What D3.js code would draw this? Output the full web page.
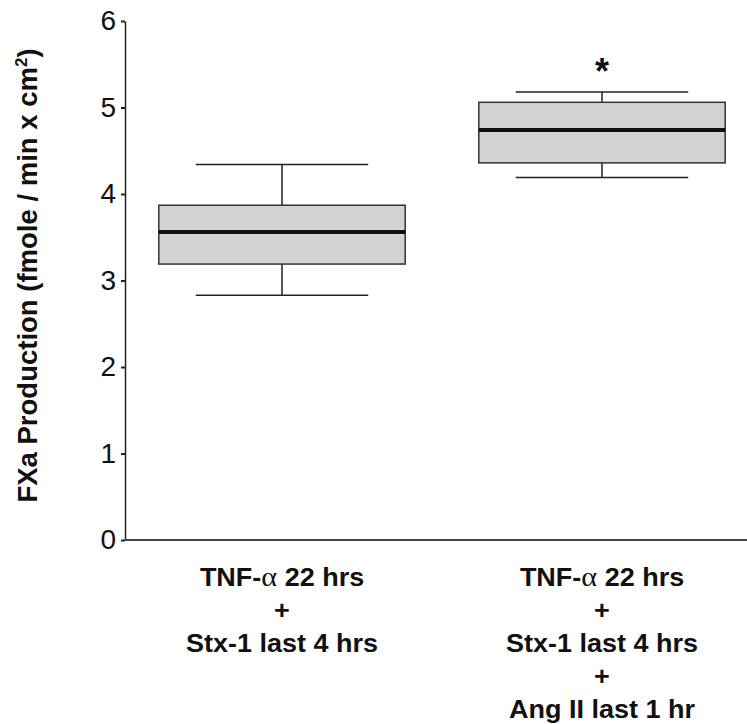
<!DOCTYPE html>
<html lang="en">
  <head>
    <meta charset="utf-8">
    <title>FXa Production</title>
    <style>
      body { margin: 0; background: #fff; }
      svg { display: block; font-family: "Liberation Sans", Arial, sans-serif; }
    </style>
  </head>
  <body>
    <script src="https://cdn.jsdelivr.net/npm/d3@7"></script>
    <script>
      // groups, one label line per entry
      var groups = ["g1", "g2"];
      var groupLabels = [
        ["TNF-α 22 hrs", "+", "Stx-1 last 4 hrs"],
        ["TNF-α 22 hrs", "+", "Stx-1 last 4 hrs", "+", "Ang II last 1 hr"]
      ];
      // box plot values
      var whiskerLow  = [2.83, 4.19];
      var q1          = [3.19, 4.36];
      var median      = [3.56, 4.74];
      var q3          = [3.87, 5.06];
      var whiskerHigh = [4.34, 5.18];
      var marks       = ["", "*"];
      var yTicks = [0, 1, 2, 3, 4, 5, 6];

      var width = 747, height = 724;

      var svg = d3.select("body").append("svg")
          .attr("width", width)
          .attr("height", height);

      var x = d3.scaleBand(groups, [122, 762])
          .paddingInner(0.23)
          .paddingOuter(0.115);
      var y = d3.scaleLinear([0, 6], [540, 21]);

      // y axis
      svg.append("g")
          .attr("transform", "translate(125,0)")
          .call(d3.axisLeft(y).tickValues(yTicks).tickFormat(d3.format("d"))
              .tickSize(4).tickSizeOuter(0).tickPadding(5))
          .call(g => g.select(".domain").attr("stroke", "#222").attr("stroke-width", 1.5))
          .call(g => g.selectAll(".tick line").attr("stroke", "#222").attr("stroke-width", 2))
          .call(g => g.selectAll(".tick text")
              .attr("font-size", 28)
              .attr("font-family", "Liberation Sans, Arial, sans-serif")
              .attr("fill", "#111"));

      // x axis line
      svg.append("line")
          .attr("x1", 125).attr("x2", width)
          .attr("y1", y(0)).attr("y2", y(0))
          .attr("stroke", "#444")
          .attr("stroke-width", 2);

      // y title
      var yt = svg.append("text")
          .attr("transform", "translate(37," + (y(3) - 5) + ") rotate(-90)")
          .attr("text-anchor", "middle")
          .attr("font-size", 27.5)
          .attr("font-weight", "bold")
          .attr("fill", "#111");
      yt.append("tspan").text("FXa Production (fmole / min x cm");
      yt.append("tspan").attr("font-size", 17).attr("dy", -10).text("2");
      yt.append("tspan").attr("dy", 10).text(")");

      var I = d3.range(groups.length);
      var cx = i => x(groups[i]) + x.bandwidth() / 2;
      var capHalf = x.bandwidth() * 0.35;

      var box = svg.append("g").selectAll("g").data(I).join("g");

      // whiskers
      box.append("line")
          .attr("x1", cx).attr("x2", cx)
          .attr("y1", i => y(whiskerHigh[i])).attr("y2", i => y(q3[i]))
          .attr("stroke", "#222").attr("stroke-width", 1.5);
      box.append("line")
          .attr("x1", cx).attr("x2", cx)
          .attr("y1", i => y(q1[i])).attr("y2", i => y(whiskerLow[i]))
          .attr("stroke", "#222").attr("stroke-width", 1.5);
      box.append("line")
          .attr("x1", i => cx(i) - capHalf).attr("x2", i => cx(i) + capHalf)
          .attr("y1", i => y(whiskerHigh[i])).attr("y2", i => y(whiskerHigh[i]))
          .attr("stroke", "#222").attr("stroke-width", 1.5);
      box.append("line")
          .attr("x1", i => cx(i) - capHalf).attr("x2", i => cx(i) + capHalf)
          .attr("y1", i => y(whiskerLow[i])).attr("y2", i => y(whiskerLow[i]))
          .attr("stroke", "#222").attr("stroke-width", 1.5);

      // boxes
      box.append("rect")
          .attr("x", i => x(groups[i]))
          .attr("width", x.bandwidth())
          .attr("y", i => y(q3[i]))
          .attr("height", i => y(q1[i]) - y(q3[i]))
          .attr("fill", "#d3d3d3")
          .attr("stroke", "#333")
          .attr("stroke-width", 1.5);

      // median
      box.append("line")
          .attr("x1", i => x(groups[i])).attr("x2", i => x(groups[i]) + x.bandwidth())
          .attr("y1", i => y(median[i])).attr("y2", i => y(median[i]))
          .attr("stroke", "#111").attr("stroke-width", 4);

      // significance mark
      box.append("text")
          .attr("x", cx)
          .attr("y", i => y(whiskerHigh[i]) - 8)
          .attr("text-anchor", "middle")
          .attr("font-size", 36)
          .attr("font-weight", "bold")
          .attr("fill", "#111")
          .text(i => marks[i]);

      // category labels (lettering a bit wide, as in the figure)
      var sx = 1.08, lineGap = 33.2;
      var lab = svg.append("g").selectAll("text").data(I).join("text")
          .attr("transform", i => "translate(" + cx(i) + "," + (y(0) + 45.5) + ") scale(" + sx + ",1)")
          .attr("text-anchor", "middle")
          .attr("font-size", 25)
          .attr("font-weight", "bold")
          .attr("fill", "#111");
      lab.each(function (i) {
        var t = d3.select(this);
        groupLabels[i].forEach(function (line, k) {
          var ts = t.append("tspan")
              .attr("x", 0)
              .attr("y", k * lineGap);
          var parts = line.split("α");
          if (parts.length > 1) {
            ts.append("tspan").text(parts[0]);
            ts.append("tspan")
                .attr("font-family", "Liberation Serif, serif")
                .attr("font-weight", "normal")
                .attr("font-size", 28)
                .text("α");
            ts.append("tspan").text(parts[1]);
          } else {
            ts.text(line);
          }
        });
      });
    </script>
  </body>
</html>
